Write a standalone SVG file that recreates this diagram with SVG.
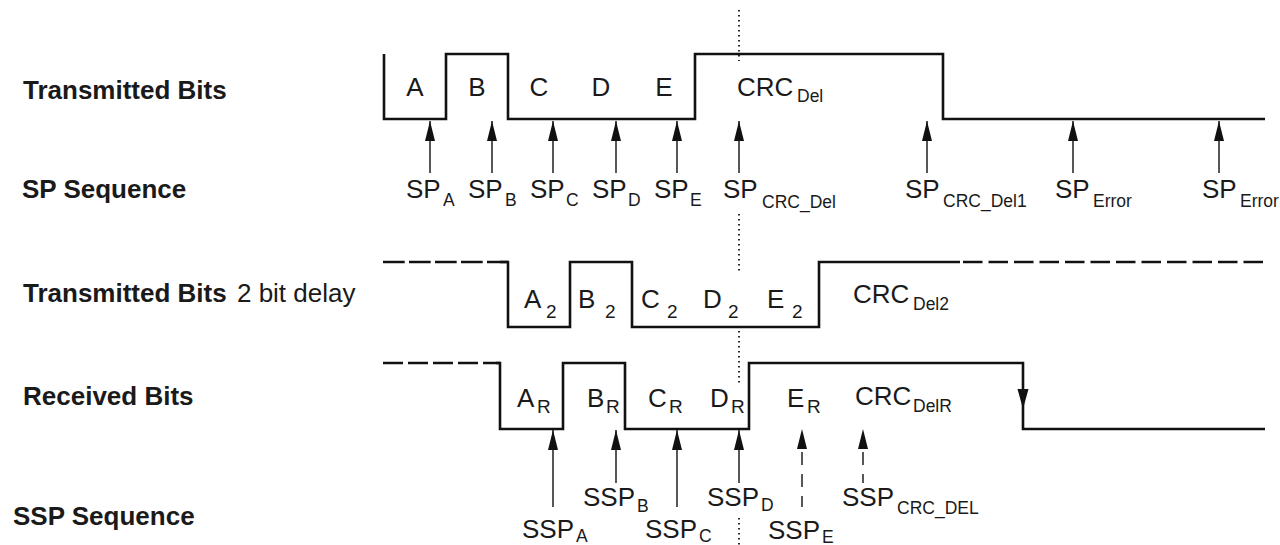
<svg xmlns="http://www.w3.org/2000/svg" width="1280" height="545" viewBox="0 0 1280 545">
<style>
text{font-family:"Liberation Sans",Arial,sans-serif;fill:#1a1a1a;font-size:26px}
.lbl{font-size:26px;font-weight:bold}
.reg{font-weight:normal}
.sub{font-size:17.5px}
.sub2{font-size:19px}
.wave{fill:none;stroke:#111;stroke-width:2.6;stroke-linejoin:miter}
.dash1{stroke-dasharray:21.7 4.3}
.dash2{stroke-dasharray:19.5 6}
.dash3{stroke-dasharray:20 5}
.arr{stroke:#111;stroke-width:1.4;fill:none}
.darr{stroke:#111;stroke-width:1.4;fill:none;stroke-dasharray:13 9}
.dot{stroke:#111;stroke-width:1.8;stroke-dasharray:1.6 3.4;fill:none}
.head{fill:#111}
</style>
<defs>
<marker id="ah" viewBox="0 0 20 10" refX="20" refY="5" markerWidth="20" markerHeight="10" markerUnits="userSpaceOnUse" orient="auto">
<path d="M0,0 L20,5 L0,10 z" fill="#111"/>
</marker>
</defs>

<g id="row-labels">
<text class="lbl" x="23" y="99">Transmitted Bits</text>
<text class="lbl" x="22" y="198">SP Sequence</text>
<text class="lbl" x="23" y="302">Transmitted Bits<tspan class="reg" dx="3"> 2 bit delay</tspan></text>
<text class="lbl" x="23" y="405">Received Bits</text>
<text class="lbl" x="13" y="525">SSP Sequence</text>
</g>

<g id="transmitted-bits">
<path class="wave" d="M384,54 L384,119 L446,119 L446,54 L508,54 L508,119 L695,119 L695,54 L943,54 L943,119 L1265,119"/>
<text x="415" y="96" text-anchor="middle">A</text>
<text x="477" y="96" text-anchor="middle">B</text>
<text x="539" y="96" text-anchor="middle">C</text>
<text x="601" y="96" text-anchor="middle">D</text>
<text x="664" y="96" text-anchor="middle">E</text>
<text x="737" y="96">CRC<tspan class="sub" x="797" y="102">Del</tspan></text>
</g>

<g id="transmitted-bits-delay">
<path class="wave dash1" d="M383,262 L508,262"/>
<path class="wave" d="M500,262 L508,262 L508,327 L570,327 L570,262 L632,262 L632,327 L819,327 L819,262 L960,262"/>
<path class="wave dash2" d="M963,262 L1265,262"/>
<text x="524" y="308">A<tspan class="sub2" x="546" y="318">2</tspan></text>
<text x="578" y="308">B<tspan class="sub2" x="605" y="318">2</tspan></text>
<text x="641" y="308">C<tspan class="sub2" x="667" y="318">2</tspan></text>
<text x="703" y="308">D<tspan class="sub2" x="728" y="318">2</tspan></text>
<text x="767" y="308">E<tspan class="sub2" x="792" y="318">2</tspan></text>
<text x="853" y="303">CRC<tspan class="sub" x="913" y="310">Del2</tspan></text>
</g>

<g id="received-bits">
<path class="wave dash3" d="M383,363 L500,363"/>
<path class="wave" d="M496,363 L500,363 L500,429 L563,429 L563,363 L625,363 L625,429 L749,429 L749,363 L1023,363 L1023,429 L1265,429"/>
<path class="head" d="M1017.5,389 L1028.5,389 L1023,409 z"/>
<text x="517" y="407">A<tspan class="sub2" x="537" y="413">R</tspan></text>
<text x="587" y="407">B<tspan class="sub2" x="606" y="413">R</tspan></text>
<text x="648" y="407">C<tspan class="sub2" x="669" y="413">R</tspan></text>
<text x="710" y="407">D<tspan class="sub2" x="731" y="413">R</tspan></text>
<text x="787" y="407">E<tspan class="sub2" x="807" y="413">R</tspan></text>
<text x="855" y="405">CRC<tspan class="sub" x="913" y="412">DelR</tspan></text>
</g>

<g id="sp-sequence">
<text x="406" y="198">SP<tspan class="sub" x="443" y="206">A</tspan></text>
<text x="468" y="198">SP<tspan class="sub" x="505" y="206">B</tspan></text>
<text x="530" y="198">SP<tspan class="sub" x="566" y="206">C</tspan></text>
<text x="592" y="198">SP<tspan class="sub" x="628" y="206">D</tspan></text>
<text x="654" y="198">SP<tspan class="sub" x="690" y="206">E</tspan></text>
<text x="723" y="198">SP<tspan class="sub" x="762" y="208">CRC_Del</tspan></text>
<text x="905" y="198">SP<tspan class="sub" x="943" y="207">CRC_Del1</tspan></text>
<text x="1055" y="198">SP<tspan class="sub" x="1093" y="207">Error</tspan></text>
<text x="1202" y="198">SP<tspan class="sub" x="1240" y="207">Error</tspan></text>
</g>

<g id="ssp-sequence">
<text x="522" y="538">SSP<tspan class="sub" x="576" y="542">A</tspan></text>
<text x="583" y="506">SSP<tspan class="sub" x="637" y="512">B</tspan></text>
<text x="645" y="538">SSP<tspan class="sub" x="699" y="542">C</tspan></text>
<text x="707" y="506">SSP<tspan class="sub" x="761" y="511">D</tspan></text>
<text x="768" y="539">SSP<tspan class="sub" x="822" y="543">E</tspan></text>
<text x="842" y="506">SSP<tspan class="sub" x="897" y="514">CRC_DEL</tspan></text>
</g>

<g id="connectors">
<line class="arr" x1="430" y1="173" x2="430" y2="121" marker-end="url(#ah)"/>
<line class="arr" x1="492" y1="173" x2="492" y2="121" marker-end="url(#ah)"/>
<line class="arr" x1="553" y1="173" x2="553" y2="121" marker-end="url(#ah)"/>
<line class="arr" x1="616" y1="173" x2="616" y2="121" marker-end="url(#ah)"/>
<line class="arr" x1="677" y1="173" x2="677" y2="121" marker-end="url(#ah)"/>
<line class="arr" x1="739" y1="173" x2="739" y2="121" marker-end="url(#ah)"/>
<line class="arr" x1="927" y1="173" x2="927" y2="121" marker-end="url(#ah)"/>
<line class="arr" x1="1073" y1="173" x2="1073" y2="121" marker-end="url(#ah)"/>
<line class="arr" x1="1219" y1="173" x2="1219" y2="121" marker-end="url(#ah)"/>

<line class="arr" x1="553" y1="507" x2="553" y2="430" marker-end="url(#ah)"/>
<line class="arr" x1="616" y1="483" x2="616" y2="430" marker-end="url(#ah)"/>
<line class="arr" x1="677" y1="507" x2="677" y2="430" marker-end="url(#ah)"/>
<line class="arr" x1="739" y1="483" x2="739" y2="430" marker-end="url(#ah)"/>
<path class="darr" d="M802,452 L802,507"/>
<path class="head" d="M797,449 L807,449 L802,429 z"/>
<path class="darr" d="M863,452 L863,483"/>
<path class="head" d="M858,449 L868,449 L863,429 z"/>

<path class="dot" d="M739,10 L739,61"/>
<path class="dot" d="M739,214 L739,272"/>
<path class="dot" d="M739,331 L739,384"/>
<path class="dot" d="M739,518 L739,545"/>
</g>
</svg>
